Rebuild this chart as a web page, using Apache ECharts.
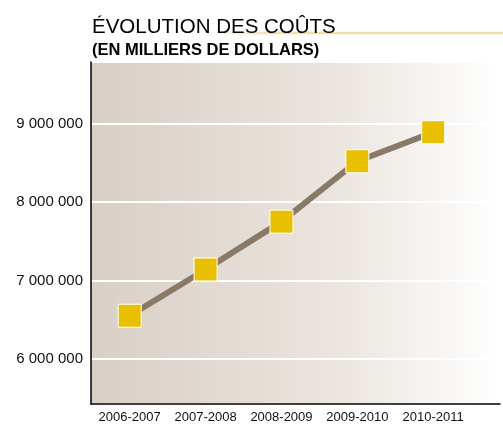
<!DOCTYPE html>
<html>
<head>
<meta charset="utf-8">
<script src="https://cdn.jsdelivr.net/npm/echarts@6/dist/echarts.min.js"></script>
<style>
  html, body { margin: 0; padding: 0; background: #fff; }
  #chart { width: 503px; height: 424px; }
</style>
</head>
<body>
<div id="chart"></div>
<script>
// exercices financiers
const categories = ['2006-2007', '2007-2008', '2008-2009', '2009-2010', '2010-2011']
// coûts (en milliers de dollars)
const costs = [6550000, 7140000, 7750000, 8520000, 8890000]

const fontFamily = '"Liberation Sans", Arial, sans-serif'

// 9 000 000
function formatThousands(v) {
  return String(v).replace(/\B(?=(\d{3})+(?!\d))/g, ' ')
}

const chart = echarts.init(document.getElementById('chart'), null, { renderer: 'canvas' })

const option = {
  backgroundColor: '#fff',
  animation: false,
  title: {
    text: 'ÉVOLUTION DES COÛTS',
    subtext: '(EN MILLIERS DE DOLLARS)',
    left: 87,
    top: 12,
    itemGap: 4,
    textStyle: { fontFamily, fontSize: 20.5, fontWeight: 'normal', color: '#000' },
    subtextStyle: { fontFamily, fontSize: 16.5, fontWeight: 'bold', color: '#000' }
  },
  graphic: [
    {
      // filet doré sous le titre
      type: 'line',
      z: 0,
      shape: { x1: 200, y1: 33, x2: 503, y2: 33 },
      style: {
        lineWidth: 2.5,
        stroke: new echarts.graphic.LinearGradient(0, 0, 1, 0, [
          { offset: 0, color: 'rgba(243,222,168,0)' },
          { offset: 0.25, color: 'rgba(243,222,168,1)' },
          { offset: 1, color: 'rgba(243,222,168,1)' }
        ])
      }
    }
  ],
  grid: {
    left: 91,
    right: 0,
    top: 62,
    bottom: 18,
    show: true,
    borderWidth: 0,
    backgroundColor: new echarts.graphic.LinearGradient(0, 0, 1, 0, [
      { offset: 0, color: '#D8CFC6' },
      { offset: 0.6, color: '#EBE5DF' },
      { offset: 1, color: '#FFFFFF' }
    ])
  },
  xAxis: {
    type: 'value',
    min: -0.51,
    max: 4.88,
    axisLine: { show: true, onZero: false, lineStyle: { color: '#000', width: 1.5 } },
    axisTick: { show: false },
    splitLine: { show: false },
    axisLabel: {
      fontFamily,
      fontSize: 13,
      color: '#111',
      margin: 7,
      formatter: v => (Number.isInteger(v) && categories[v]) ? categories[v] : ''
    }
  },
  yAxis: {
    type: 'value',
    min: 5425000,
    max: 9785000,
    axisLine: { show: true, onZero: false, lineStyle: { color: '#000', width: 1.5 } },
    axisTick: { show: false },
    splitLine: { show: true, lineStyle: { color: '#fff', width: 2 } },
    axisLabel: {
      fontFamily,
      fontSize: 15,
      color: '#111',
      margin: 8,
      formatter: v => (v % 1000000 === 0) ? formatThousands(v) : ''
    }
  },
  series: [
    {
      type: 'line',
      data: costs.map((v, i) => [i, v]),
      symbol: 'rect',
      symbolSize: 23,
      lineStyle: { color: '#8A7967', width: 6 },
      itemStyle: { color: '#E8C000', borderColor: '#fff', borderWidth: 1 },
      z: 3
    }
  ]
}

chart.setOption(option)
</script>
</body>
</html>
